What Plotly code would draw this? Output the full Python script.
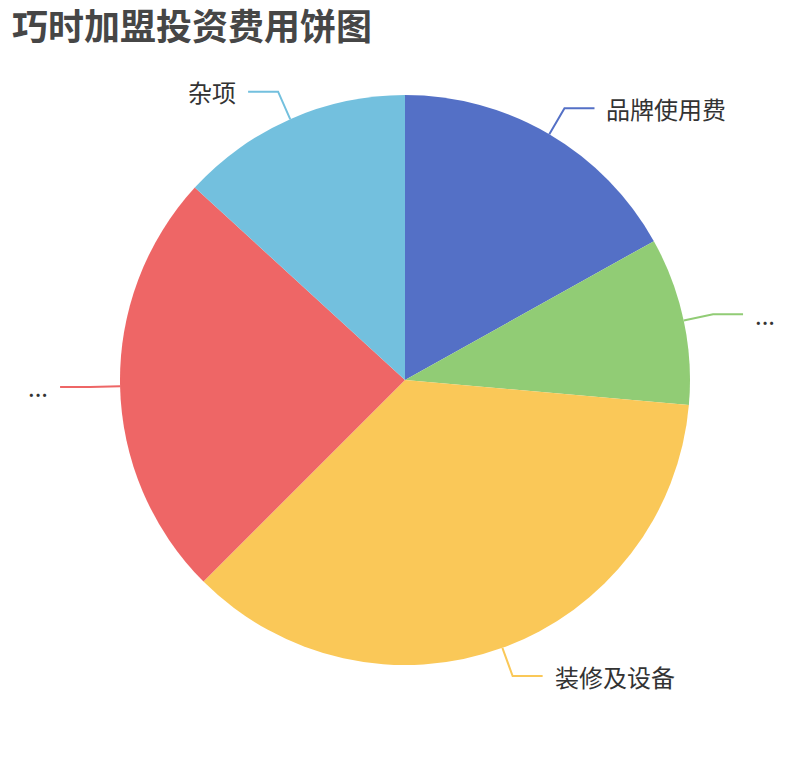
import numpy as np
import plotly.graph_objects as go

# page body has an 8px margin, so the figure is drawn 8px in from the window edge
OFF = 8
W, H = 810 - OFF, 760 - OFF

# data (share of total, %)
names = ["品牌使用费", "...", "装修及设备", "...", "杂项"]
values = [16.9, 9.5, 36.1, 24.3, 13.2]
colors = ["#5470c6", "#91cc75", "#fac858", "#ee6666", "#73c0de"]

# pie geometry in window pixels (echarts-like: centre 50%/50%, radius 75%)
cx, cy = 810 / 2, 760 / 2
R = 0.75 * min(810, 760) / 2
len1, len2, gap = 30, 30, 10


def px(x, y):
    # window pixel -> paper coordinates
    return (x - OFF) / W, 1 - (y - OFF) / H


(dx0, dy1), (dx1, dy0) = px(cx - R, cy - R), px(cx + R, cy + R)

fig = go.Figure(go.Pie(
    values=values,
    hovertext=names,
    hoverinfo="text+percent",
    marker=dict(colors=colors, line=dict(width=0)),
    sort=False,
    direction="clockwise",
    rotation=0,
    textinfo="none",
    showlegend=False,
    domain=dict(x=[dx0, dx1], y=[dy0, dy1]),
))

# leader lines + outside labels, positioned from the slice mid angles
frac = np.array(values) / sum(values)
mids = (np.cumsum(frac) - frac / 2) * 2 * np.pi
shapes, annotations = [], []
for name, col, a in zip(names, colors, mids):
    sx, sy = np.sin(a), -np.cos(a)
    x0, y0 = cx + R * sx, cy + R * sy
    x1, y1 = cx + (R + len1) * sx, cy + (R + len1) * sy
    side = 1 if sx >= 0 else -1
    x2, y2 = x1 + side * len2, y1
    p0, p1, p2 = px(x0, y0), px(x1, y1), px(x2, y2)
    shapes.append(dict(
        type="path", xref="paper", yref="paper",
        path=f"M {p0[0]},{p0[1]} L {p1[0]},{p1[1]} L {p2[0]},{p2[1]}",
        line=dict(color=col, width=2),
    ))
    tx, ty = px(x2 + side * gap, y2)
    annotations.append(dict(
        x=tx, y=ty, xref="paper", yref="paper", text=name, showarrow=False,
        xanchor="left" if side > 0 else "right", yanchor="middle",
        font=dict(size=24, color="#333333"),
    ))

tx, ty = px(10, 24)
annotations.append(dict(
    x=tx, y=ty, xref="paper", yref="paper",
    text="<b>巧时加盟投资费用饼图</b>", showarrow=False,
    xanchor="left", yanchor="middle",
    font=dict(size=36, color="#464646"),
))

fig.update_layout(
    width=W, height=H,
    margin=dict(l=0, r=0, t=0, b=0),
    paper_bgcolor="white",
    font=dict(family="Noto Sans CJK SC, sans-serif"),
    shapes=shapes,
    annotations=annotations,
)

fig.write_html("out.html")
